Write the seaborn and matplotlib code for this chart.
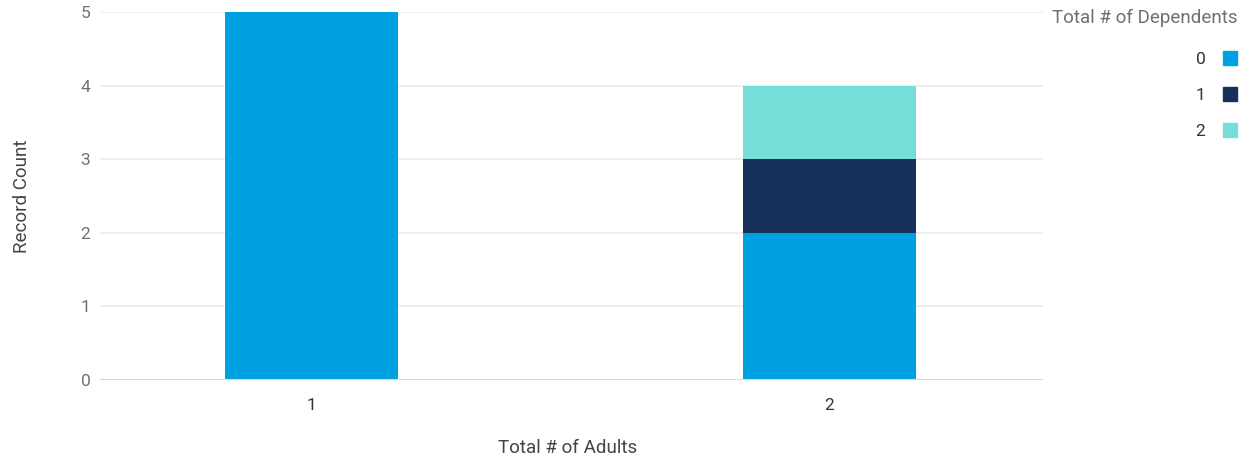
import matplotlib
matplotlib.use('Agg')
import matplotlib.pyplot as plt
from matplotlib.lines import Line2D
import seaborn as sbn
import pandas as pd

# data
adults = ['1', '2']
dependents = ['0', '1', '2']
count_dep0 = [5, 2]
count_dep1 = [0, 1]
count_dep2 = [0, 1]
colors = ['#00A1E0', '#16325C', '#76DED9']

sbn.set_style('white')
plt.rcParams['font.family'] = ['Roboto', 'DejaVu Sans']

df = pd.DataFrame({'adults': adults, 'd0': count_dep0, 'd1': count_dep1, 'd2': count_dep2})
# cumulative heights so the layers stack
df['c0'] = df['d0']
df['c1'] = df['c0'] + df['d1']
df['c2'] = df['c1'] + df['d2']

fig = plt.figure(figsize=(12.45, 4.61), dpi=100)
ax = fig.add_axes([100 / 1245, 81 / 461, 943 / 1245, 368 / 461])

# draw tallest layer first, then cover with the lower ones
for col, c in zip(['c2', 'c1', 'c0'], colors[::-1]):
    sbn.barplot(data=df, x='adults', y=col, color=c, width=0.334,
                saturation=1, ax=ax, zorder=3, linewidth=0)

ax.set_xlim(-0.408, 1.412)
ax.set_ylim(0, 5)
ax.set_yticks([0, 1, 2, 3, 4, 5])
for y in [1, 2, 3, 4, 5]:
    ax.axhline(y, color='#ebebeb', lw=1.2, zorder=1)
ax.axhline(0, color='#d9d9d9', lw=1.5, zorder=4)
for s in ax.spines.values():
    s.set_visible(False)

ax.tick_params(axis='y', length=0, pad=7, labelsize=12.5, labelcolor='#707070')
ax.tick_params(axis='x', length=0, pad=13, labelsize=12.5, labelcolor='#333333')

ax.set_ylabel('Record Count', fontsize=13.5, color='#444444')
ax.yaxis.set_label_coords(-0.073, 0.5)
ax.set_xlabel('Total # of Adults', fontsize=13.5, color='#444444')
ax.xaxis.set_label_coords(0.496, -0.16)

fig.text(1238 / 1245, 1 - 18 / 461, 'Total # of Dependents', ha='right', va='center',
         fontsize=13.5, color='#707070')
handles = [Line2D([], [], ls='none', marker='s', markersize=10.5, color=c) for c in colors]
leg = fig.legend(handles, dependents, loc='upper right',
                 bbox_to_anchor=(1240 / 1245, 1 - 52 / 461), markerfirst=False, frameon=False,
                 fontsize=12.5, labelspacing=1.2, handletextpad=0.8, handlelength=1.2,
                 labelcolor='#333333', borderaxespad=0, borderpad=0)

fig.savefig('out.png', dpi=100)
